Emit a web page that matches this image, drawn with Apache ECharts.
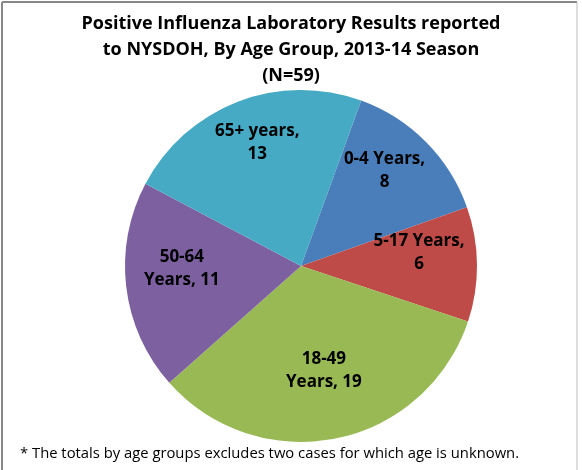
<!DOCTYPE html>
<html>
<head>
<meta charset="utf-8">
<script src="https://cdn.jsdelivr.net/npm/echarts@6/dist/echarts.min.js"></script>
<style>
html,body{margin:0;padding:0;background:#fff;}
#chart{width:582px;height:470px;}
</style>
</head>
<body>
<div id="chart"></div>
<script>
var categories = ['0-4 Years', '5-17 Years', '18-49 Years', '50-64 Years', '65+ years'];
var values = [8, 6, 19, 11, 13];
var labelTexts = ['0-4 Years,\n8', '5-17 Years,\n6', '18-49\nYears, 19', '50-64\nYears, 11', '65+ years,\n13'];
var colors = ['#4a7ebb', '#be4b48', '#98b954', '#7d60a0', '#46aac5'];
var titleText = 'Positive Influenza Laboratory Results reported\nto NYSDOH, By Age Group, 2013-14 Season\n(N=59)';
var footnote = '* The totals by age groups excludes two cases for which age is unknown.';

var chart = echarts.init(document.getElementById('chart'));
var pieData = categories.map(function (c, i) {
  return { name: c, value: values[i], itemStyle: { color: colors[i] } };
});
var labelData = categories.map(function (c, i) {
  return { name: c, value: values[i], label: { formatter: labelTexts[i] } };
});
chart.setOption({
  animation: false,
  title: {
    text: titleText,
    left: 'center',
    top: 6,
    textStyle: { fontFamily: 'Open Sans', fontWeight: 'bold', fontSize: 18, lineHeight: 26, color: '#000' }
  },
  graphic: [
    { type: 'line', shape: { x1: 2, y1: 2, x2: 577, y2: 2 }, style: { stroke: '#888', lineWidth: 2 } },
    { type: 'line', shape: { x1: 2, y1: 2, x2: 2, y2: 470 }, style: { stroke: '#888', lineWidth: 2 } },
    { type: 'line', shape: { x1: 577, y1: 2, x2: 577, y2: 470 }, style: { stroke: '#bbb', lineWidth: 1 } },
    { type: 'text', left: 20, top: 446, style: { text: footnote, fontFamily: 'Open Sans', fontSize: 14.8, fill: '#000' } }
  ],
  series: [
    {
      type: 'pie',
      center: [301, 266],
      radius: 176,
      startAngle: 70,
      clockwise: true,
      label: { show: false },
      labelLine: { show: false },
      emphasis: { disabled: true },
      itemStyle: { borderWidth: 0 },
      data: pieData
    },
    {
      type: 'pie',
      center: [300, 254],
      radius: [70, 162],
      startAngle: 70,
      clockwise: true,
      silent: true,
      itemStyle: { color: 'rgba(0,0,0,0)' },
      label: {
        show: true,
        position: 'inside',
        fontFamily: 'Open Sans',
        fontWeight: 'bold',
        fontSize: 17,
        lineHeight: 23,
        color: '#000',
        align: 'center'
      },
      labelLine: { show: false },
      data: labelData
    }
  ]
});
</script>
</body>
</html>
